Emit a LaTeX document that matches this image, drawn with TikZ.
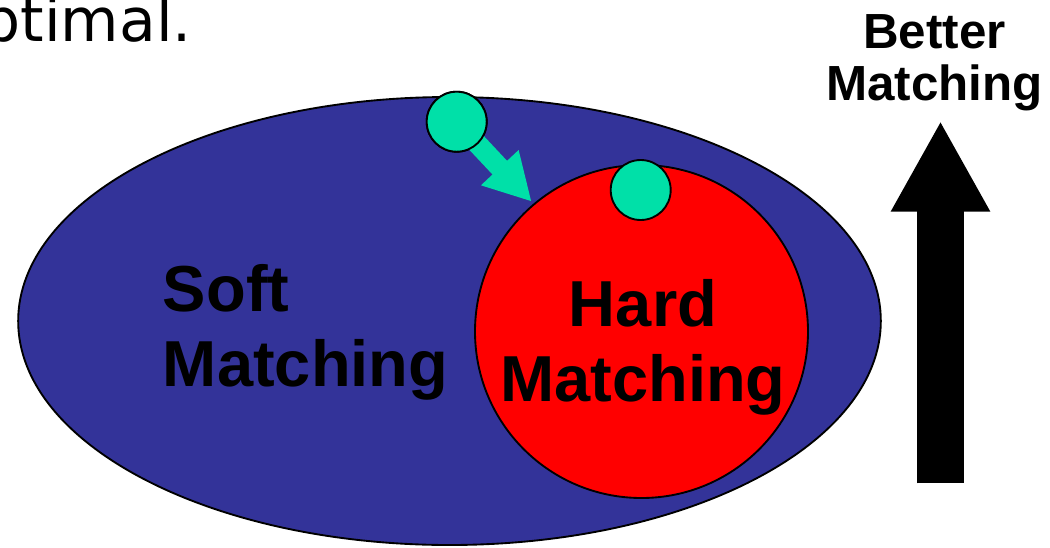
\documentclass[tikz,border=0pt]{standalone}
\usepackage{fontspec}
\setmainfont{Liberation Sans}
\newfontfamily\dvfont{DejaVu Sans}
\usetikzlibrary{shapes.geometric,arrows.meta}
\definecolor{softblue}{RGB}{51,51,153}
\definecolor{hardred}{RGB}{255,0,0}
\definecolor{dotgreen}{RGB}{0,224,168}
\tikzset{
  outline/.style={draw=black, line width=1.4pt},
  dot/.style={circle, outline, fill=dotgreen, minimum size=45pt, inner sep=0pt},
  bigtext/.style={font=\bfseries\fontsize{48.75}{56.5}\selectfont, inner sep=0pt, text=black},
  sidetext/.style={font=\bfseries\fontsize{37}{39}\selectfont, inner sep=0pt, text=black, align=center},
}
\begin{document}
\begin{tikzpicture}[x=0.75pt,y=-0.75pt]
\useasboundingbox (0,0) rectangle (1050,547);
\clip (0,0) rectangle (1050,547);
% heading fragment
\node[anchor=base east, inner sep=0pt, font=\dvfont\fontsize{45}{50}\selectfont] (head) at (192,41.7) {ptimal.};
% soft matching ellipse
\node[ellipse, outline, fill=softblue, minimum width=647pt, minimum height=336pt, inner sep=0pt] (soft) at (449.5,321) {};
% hard matching circle
\node[circle, outline, fill=hardred, minimum size=249.75pt, inner sep=0pt] (hard) at (641.5,331.5) {};
% moving dot and arrow
\coordinate (tip) at (531.7,201.7);
\node[dot] (g1) at (456.7,121.7) {};
\draw[dotgreen, line width=15pt, -{Triangle[length=35pt,width=36pt]}] (g1.center) -- (tip);
\node[dot] (g1) at (456.7,121.7) {};
\node[dot] (g2) at (640.7,190) {};
% labels
\node[bigtext, anchor=base west, align=left] (softlbl) at (162.7,386.7) {Soft\\Matching};
\node[bigtext, anchor=base, align=center] (hardlbl) at (643,401.7) {Hard\\Matching};
\node[sidetext, anchor=base] (better) at (934.5,100) {Better\\Matching};
% better arrow
\coordinate (ab) at (940.5,483.3);
\coordinate (at) at (940.5,120.7);
\draw[black, line width=35.7pt, -{Triangle[length=68.25pt,width=69.5pt]}] (ab) -- (at);
\end{tikzpicture}
\end{document}
